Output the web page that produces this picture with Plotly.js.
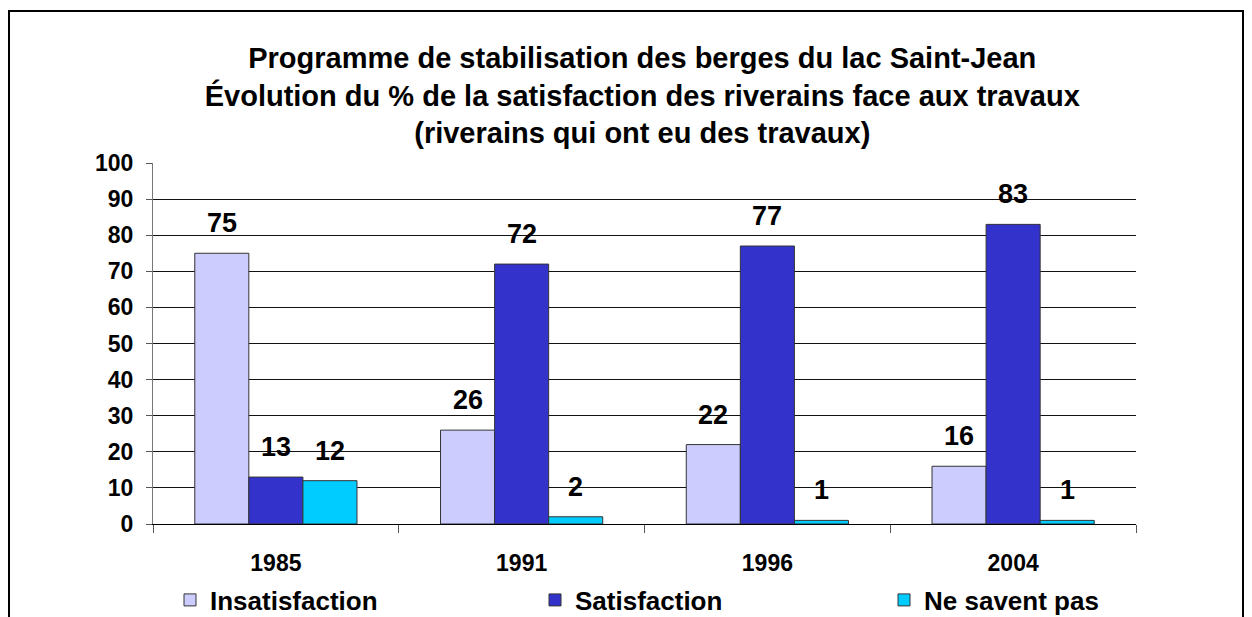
<!DOCTYPE html>
<html>
<head>
<meta charset="utf-8">
<script src="https://cdn.plot.ly/plotly-3.0.1.min.js"></script>
<style>
html,body{margin:0;padding:0;background:#fff;}
#chart{width:1252px;height:617px;}
</style>
</head>
<body>
<div id="chart"></div>
<script>
const categories = ['1985', '1991', '1996', '2004'];
const insatisfaction = [75, 26, 22, 16];
const satisfaction = [13, 72, 77, 83];
const neSaventPas = [12, 2, 1, 1];
const seriesNames = ['Insatisfaction', 'Satisfaction', 'Ne savent pas'];
const yTicks = [0, 10, 20, 30, 40, 50, 60, 70, 80, 90, 100];

const FONT = 'Arial, "Liberation Sans", sans-serif';
const colors = ['#CCCCFF', '#3333CC', '#00CCFF'];
const series = [insatisfaction, satisfaction, neSaventPas];
const legendIds = ['legend', 'legend2', 'legend3'];

const bargap = 0.34;
const barW = (1 - bargap) / 3;

const traces = series.map((vals, i) => ({
  type: 'bar',
  name: seriesNames[i],
  x: categories,
  y: vals,
  marker: {color: colors[i], line: {color: '#333333', width: 1}},
  legend: legendIds[i],
  hoverinfo: 'x+y+name'
}));

const annotations = [];
series.forEach((vals, i) => {
  vals.forEach((v, j) => {
    annotations.push({
      x: j + (i - 1) * barW,
      y: v,
      xref: 'x', yref: 'y',
      text: String(v),
      showarrow: false,
      yanchor: 'bottom',
      yshift: 13,
      font: {family: FONT, size: 27, color: '#000', weight: 'bold'}
    });
  });
});

const px = (p) => (p - 153) / 983;
const py = (p) => (524 - p) / 361;

const legendBase = {
  orientation: 'h',
  yanchor: 'middle',
  xanchor: 'left',
  yref: 'container',
  y: 1 - 600 / 617,
  font: {family: FONT, size: 26, color: '#000', weight: 'bold'},
  bgcolor: 'rgba(0,0,0,0)',
  borderwidth: 0
};

const layout = {
  width: 1252,
  height: 617,
  margin: {l: 153, r: 116, t: 163, b: 93, autoexpand: false},
  paper_bgcolor: '#fff',
  plot_bgcolor: '#fff',
  font: {family: FONT, color: '#000'},
  title: {
    text: 'Programme de stabilisation des berges du lac Saint-Jean<br>Évolution du % de la satisfaction des riverains face aux travaux<br>(riverains qui ont eu des travaux)',
    font: {family: FONT, size: 29, color: '#000', weight: 'bold'},
    x: 0.513, xanchor: 'center',
    y: 0.89, yanchor: 'middle', yref: 'container'
  },
  barmode: 'group',
  bargap: bargap,
  bargroupgap: 0,
  xaxis: {
    type: 'category',
    showgrid: false,
    showline: true, linecolor: '#000', linewidth: 1,
    ticks: 'outside', tickson: 'boundaries', ticklen: 8, tickcolor: '#555',
    tickfont: {family: FONT, size: 23, color: '#000', weight: 'bold'},
    ticklabelstandoff: 18,
    zeroline: false
  },
  yaxis: {
    range: [0, 100],
    tickvals: yTicks,
    ticktext: yTicks.map(String),
    showgrid: true, gridcolor: '#111', gridwidth: 1,
    showline: true, linecolor: '#777', linewidth: 1,
    ticks: 'outside', ticklen: 6, tickcolor: '#555',
    tickfont: {family: FONT, size: 23, color: '#000', weight: 'bold'},
    ticklabelstandoff: 8,
    zeroline: true, zerolinecolor: '#000', zerolinewidth: 1,
    fixedrange: true
  },
  legend: Object.assign({}, legendBase, {x: px(170)}),
  legend2: Object.assign({}, legendBase, {x: px(535)}),
  legend3: Object.assign({}, legendBase, {x: px(884)}),
  annotations: annotations,
  shapes: [{
    type: 'path', xref: 'paper', yref: 'paper',
    path: `M ${px(9)},${py(640)} L ${px(9)},${py(11)} L ${px(1243)},${py(11)} L ${px(1243)},${py(640)}`,
    line: {color: '#000', width: 2}
  }],
  showlegend: true
};

Plotly.newPlot('chart', traces, layout, {displayModeBar: false, staticPlot: false});
</script>
</body>
</html>
